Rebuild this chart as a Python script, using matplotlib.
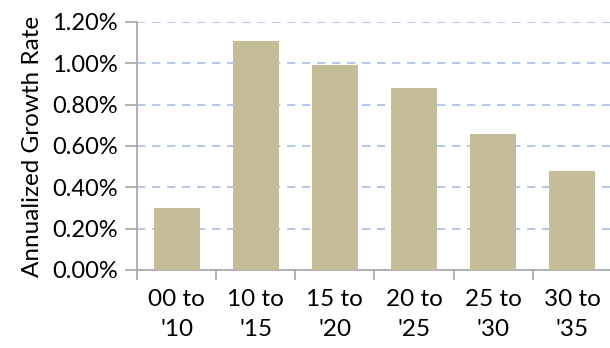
import matplotlib
matplotlib.use("Agg")
import matplotlib.pyplot as plt
import numpy as np
from matplotlib.ticker import FuncFormatter, FixedLocator

categories = ["00 to\n'10", "10 to\n'15", "15 to\n'20", "20 to\n'25", "25 to\n'30", "30 to\n'35"]
values = [0.30, 1.11, 0.99, 0.88, 0.66, 0.48]
yticks = [0.0, 0.2, 0.4, 0.6, 0.8, 1.0, 1.2]

plt.rcParams['font.family'] = ['Lato', 'DejaVu Sans']

fig = plt.figure(figsize=(6.10, 3.48), dpi=100)
ax = fig.add_axes([137/610, 1 - 270/348, (612-137)/610, (270-22)/348])

x = np.arange(len(categories))
ax.bar(x, values, width=0.58, color='#C4BD97', zorder=3)

ax.set_xlim(-0.5, len(categories) - 0.5)
ax.set_ylim(0, 1.2)
ax.set_yticks(yticks)
ax.yaxis.set_major_formatter(FuncFormatter(lambda v, p: f"{v:.2f}%"))
ax.set_xticks(x)
ax.set_xticklabels(categories, fontsize=17.5, linespacing=1.5)
ax.xaxis.set_minor_locator(FixedLocator(np.arange(-0.5, len(categories), 1.0)))
ax.tick_params(axis='x', which='major', length=0, pad=14)
ax.tick_params(axis='x', which='minor', length=7, color='#A6A6A6', width=1.2)
ax.tick_params(axis='y', which='major', length=9, color='#A6A6A6', width=1.2, labelsize=17, pad=5)

ax.grid(axis='y', color='#A9BFE6', linestyle=(0, (5, 4)), linewidth=1.2, zorder=0)
for s in ['top', 'right']:
    ax.spines[s].set_visible(False)
for s in ['left', 'bottom']:
    ax.spines[s].set_color('#A6A6A6')
    ax.spines[s].set_linewidth(1.2)

ax.set_ylabel("Annualized Growth Rate", fontsize=17.5, labelpad=6)

fig.savefig("out.png", dpi=100)
